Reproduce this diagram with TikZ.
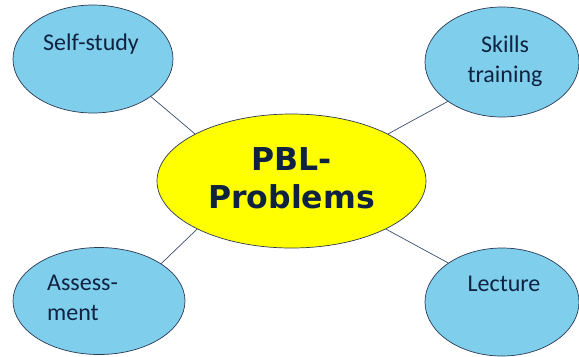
\documentclass[tikz,border=0pt]{standalone}
\usepackage{fontspec}
\setmainfont{Carlito}
\newfontfamily\headfont{DejaVu Sans}
\usetikzlibrary{shapes.geometric}
\definecolor{bubble}{HTML}{7FCEEC}
\definecolor{hub}{HTML}{FFFF00}
\definecolor{ink}{HTML}{0F2341}
\definecolor{rim}{HTML}{2B3A55}
\definecolor{wire}{HTML}{3C4C6C}
\begin{document}
\begin{tikzpicture}[x=1bp,y=-1bp,
  topic/.style={ellipse, draw=rim, line width=0.7bp, fill=bubble, inner sep=0pt},
  core/.style={ellipse, draw=rim, line width=0.7bp, fill=hub, inner sep=0pt},
  small/.style={font=\fontsize{24bp}{30bp}\selectfont, text=ink, inner sep=0pt, anchor=base},
  big/.style={font=\headfont\bfseries\fontsize{31.5bp}{38bp}\selectfont, text=ink, inner sep=0pt, anchor=base},
  link/.style={draw=wire, line width=0.7bp}]
\useasboundingbox (0,0) rectangle (579,356);

% central ellipse and the four topics around it
\node[core, minimum width=269bp, minimum height=134bp] (hubnode) at (291.5,181) {};
\node[topic, minimum width=160bp, minimum height=108bp] (self) at (93,59) {};
\node[topic, minimum width=154bp, minimum height=110bp] (skills) at (502,62) {};
\node[topic, minimum width=172bp, minimum height=107bp] (assess) at (99,301) {};
\node[topic, minimum width=154bp, minimum height=108bp] (lect) at (502,302) {};

% connectors
\draw[link] (self.-33.5) -- (hubnode.154);
\draw[link] (skills.216.7) -- (hubnode.26.6);
\draw[link] (assess.31) -- (hubnode.207);
\draw[link] (lect.144) -- (hubnode.-27);

% labels
\node[big] (t1) at (291.5,170) {PBL-};
\node[big] (t2) at (291.5,208) {Problems};
\node[small] (l1) at (91,50) {Self-study};
\node[small] (l2) at (505,52) {Skills};
\node[small] (l3) at (505,82) {training};
\node[small, anchor=base west] (l4) at (47,290) {Assess-};
\node[small, anchor=base west] (l5) at (47,320) {ment};
\node[small] (l6) at (504,291) {Lecture};
\end{tikzpicture}
\end{document}
